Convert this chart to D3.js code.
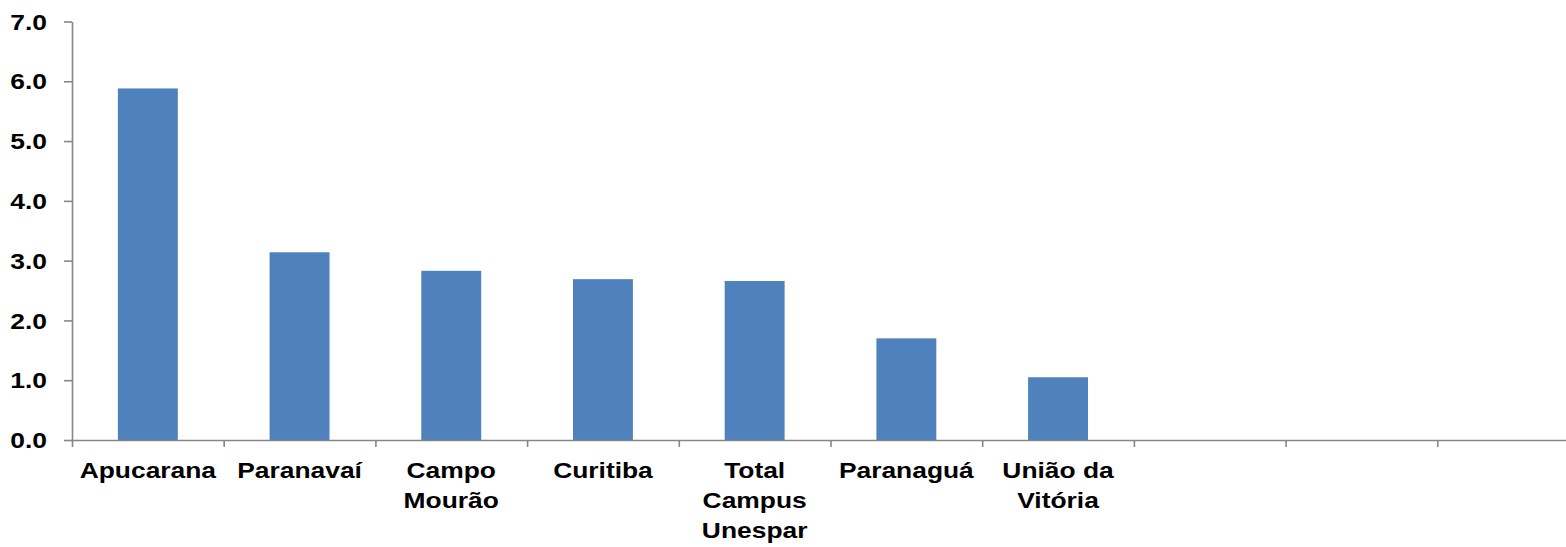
<!DOCTYPE html>
<html>
<head>
<meta charset="utf-8">
<script src="https://cdn.jsdelivr.net/npm/d3@7"></script>
<style>
  body { margin: 0; background: #fff; }
  svg { display: block; overflow: hidden; }
  text { font-family: "Liberation Sans", Arial, sans-serif; font-weight: bold; fill: #000; }
</style>
</head>
<body>
<div id="chart"></div>
<script>
// categories shown on the x axis ("\n" = line break), the last three slots are empty
const categories = ["Apucarana", "Paranavaí", "Campo\nMourão", "Curitiba", "Total\nCampus\nUnespar", "Paranaguá", "União da\nVitória", "", "", ""]
const values = [5.88, 3.14, 2.83, 2.69, 2.66, 1.70, 1.05]
const yTicks = [0, 1, 2, 3, 4, 5, 6, 7]

const W = 1566, H = 547
const margin = {top: 21.5, left: 72, bottom: 107}
const slot = 151.7
const plotW = slot * categories.length
const plotH = H - margin.top - margin.bottom
const stretch = 1.2 // text in the picture is wider than normal

const svg = d3.select("#chart").append("svg")
  .attr("width", W)
  .attr("height", H)

const g = svg.append("g")
  .attr("transform", "translate(" + margin.left + "," + margin.top + ")")

const x = d3.scaleBand()
  .domain(d3.range(categories.length))
  .range([0, plotW])
  .padding(0)

const y = d3.scaleLinear()
  .domain([0, 7])
  .range([plotH, 0])

// bars
g.selectAll("rect.bar")
  .data(values)
  .enter().append("rect")
  .attr("class", "bar")
  .attr("x", (d, i) => x(i) + x.bandwidth() * 0.3025)
  .attr("width", x.bandwidth() * 0.395)
  .attr("y", d => y(d))
  .attr("height", d => y(0) - y(d))
  .attr("fill", "#4F81BD")

// y axis
const yAxis = g.append("g")
  .call(d3.axisLeft(y).tickValues(yTicks).tickFormat(d3.format(".1f")).tickSize(8).tickSizeOuter(0))
yAxis.select(".domain").attr("stroke", "#868686").attr("stroke-width", 1.6)
yAxis.selectAll(".tick line").attr("stroke", "#868686").attr("stroke-width", 1.6)
yAxis.selectAll(".tick text")
  .attr("x", 0)
  .attr("dy", "0.35em")
  .attr("text-anchor", "end")
  .attr("transform", "translate(-25,0) scale(" + stretch + ",1)")
  .style("font-size", "22px")

// x axis: tick marks on the category boundaries
const xb = d3.scaleLinear().domain([0, categories.length]).range([0, plotW])
const xTicksAxis = g.append("g")
  .attr("transform", "translate(0," + plotH + ")")
  .call(d3.axisBottom(xb).tickValues(d3.range(categories.length + 1)).tickFormat("").tickSize(7).tickSizeOuter(0))
xTicksAxis.select(".domain").attr("stroke", "#868686").attr("stroke-width", 1.6)
xTicksAxis.selectAll(".tick line").attr("stroke", "#868686").attr("stroke-width", 1.6)

// x axis labels
const xAxis = g.append("g")
  .attr("transform", "translate(0," + plotH + ")")
  .call(d3.axisBottom(x).tickFormat("").tickSize(0))
xAxis.select(".domain").remove()
xAxis.selectAll(".tick").each(function (d) {
  const lines = categories[d].split("\n")
  const t = d3.select(this).append("text")
    .attr("text-anchor", "middle")
    .attr("transform", "scale(" + stretch + ",1)")
    .style("font-size", "22px")
  lines.forEach((s, k) => {
    t.append("tspan").attr("x", 0).attr("y", 38.5 + k * 30).text(s)
  })
})
</script>
</body>
</html>
